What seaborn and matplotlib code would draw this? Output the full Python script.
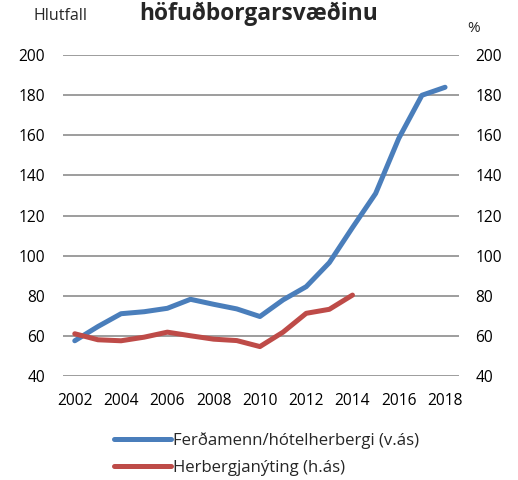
import pandas as pd
import seaborn as sns
import matplotlib.pyplot as plt

# Gögn lesin af myndinni
years = list(range(2002, 2019))
ferdamenn = [57.5, 64.6, 71.0, 72.0, 73.7, 78.2, 75.7, 73.4, 69.6, 77.9, 84.5,
             96.5, 114.0, 131.0, 158.5, 180.0, 184.0]
nyting_years = list(range(2002, 2015))
nyting = [61.0, 58.0, 57.5, 59.3, 61.8, 60.0, 58.3, 57.6, 54.6, 61.8, 71.2, 73.2, 80.3]
yticks = [40, 60, 80, 100, 120, 140, 160, 180, 200]
xticks = [2002, 2004, 2006, 2008, 2010, 2012, 2014, 2016, 2018]

df_blue = pd.DataFrame({'ar': years, 'gildi': ferdamenn})
df_red = pd.DataFrame({'ar': nyting_years, 'gildi': nyting})

sns.set_style("white")
plt.rcParams['font.family'] = ['Open Sans', 'DejaVu Sans']

fig = plt.figure(figsize=(5.18, 4.8), dpi=100)
ax = fig.add_axes([0.122, 0.217, 0.764, 0.668])
ax2 = ax.twinx()

blue = '#4A7EBB'
red = '#BE4B48'

sns.lineplot(data=df_blue, x='ar', y='gildi', ax=ax, color=blue, linewidth=3.6,
             label='Ferðamenn/hótelherbergi (v.ás)', legend=False)
sns.lineplot(data=df_red, x='ar', y='gildi', ax=ax2, color=red, linewidth=3.6,
             label='Herbergjanýting (h.ás)', legend=False)

for a in (ax, ax2):
    a.set_ylim(40, 200)
    a.set_yticks(yticks)
    a.set_xlim(2001.5, 2018.6)
    a.set_xlabel('')
    a.set_ylabel('')
    for s in a.spines.values():
        s.set_visible(False)
    a.tick_params(length=0, labelsize=11.2, colors='black')

ax.set_xticks(xticks)
ax.tick_params(axis='y', pad=13)
ax2.tick_params(axis='y', pad=12)
ax.tick_params(axis='x', pad=12)
ax.yaxis.grid(True, color='#8c8c8c', linewidth=1.2)
ax.set_axisbelow(True)

fig.text(0.116, 0.966, 'Hlutfall', fontsize=11.5, ha='center', va='center')
fig.text(0.915, 0.94, '%', fontsize=11, ha='center', va='center')
fig.text(0.5, 0.972, 'höfuðborgarsvæðinu', fontsize=16.4, fontweight='bold',
         ha='center', va='center')

h1, l1 = ax.get_legend_handles_labels()
h2, l2 = ax2.get_legend_handles_labels()
fig.legend(h1 + h2, l1 + l2, loc='center', bbox_to_anchor=(0.515, 0.054),
           frameon=False, fontsize=12.1, handlelength=3.4, handletextpad=0.1,
           labelspacing=0.62, ncol=1, borderaxespad=0)

fig.savefig('out.png', dpi=100)
